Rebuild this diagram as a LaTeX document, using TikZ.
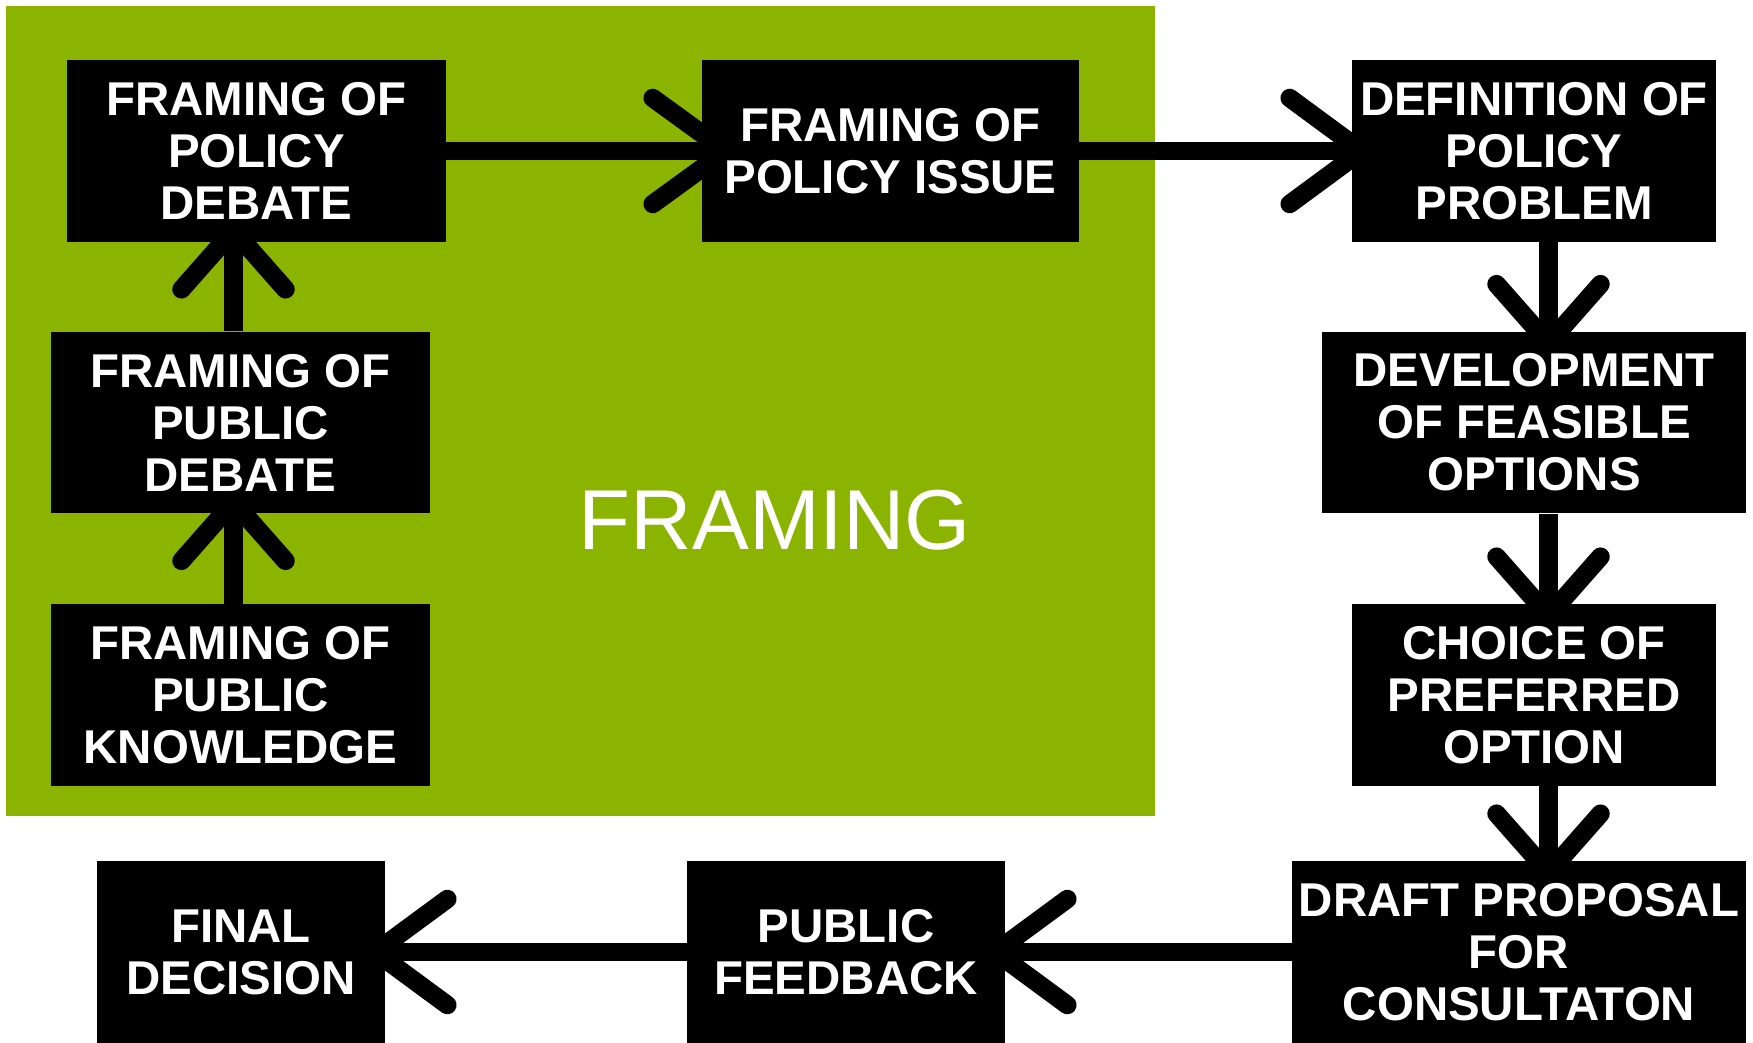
\documentclass[tikz,border=0pt]{standalone}
\usepackage{fontspec}
\setmainfont{Liberation Sans}
\usetikzlibrary{calc,backgrounds}
\definecolor{framegreen}{RGB}{138,180,0}
\newcommand\chevU[1]{\draw[chev] ($(#1)+(-52,47)$) -- ($(#1)+(0,-12)$) -- ($(#1)+(52,47)$);}
\newcommand\chevD[1]{\draw[chev] ($(#1)+(-52,-47)$) -- ($(#1)+(0,12)$) -- ($(#1)+(52,-47)$);}
\newcommand\chevR[3]{\draw[chev] ($(#1)+(-#2,-53)$) -- ($(#1)+(#3,0)$) -- ($(#1)+(-#2,53)$);}
\newcommand\chevL[3]{\draw[chev] ($(#1)+(#2,-53)$) -- ($(#1)+(-#3,0)$) -- ($(#1)+(#2,53)$);}
\begin{document}
\begin{tikzpicture}[x=0.02cm,y=-0.02cm,
  box/.style={fill=black,text=white,inner sep=0pt,align=center,minimum height=3.64cm,
    font=\bfseries\fontsize{27}{29.6}\selectfont},
  conn/.style={line width=0.37cm},
  chev/.style={line width=0.37cm,line cap=round,line join=miter}]
\useasboundingbox (0,0) rectangle (1753,1043);
% boxes
\node[box,minimum width=7.58cm] (fpd) at (256.5,151) {FRAMING OF\\POLICY\\DEBATE};
\node[box,minimum width=7.54cm] (fpi) at (890.5,151) {FRAMING OF\\POLICY ISSUE};
\node[box,minimum width=7.28cm] (dpp) at (1534,151) {DEFINITION OF\\POLICY\\PROBLEM};
\node[box,minimum width=7.58cm] (fpubd) at (240.5,422.5) {FRAMING OF\\PUBLIC\\DEBATE};
\node[box,minimum width=7.58cm] (fpk) at (240.5,695) {FRAMING OF\\PUBLIC\\KNOWLEDGE};
\node[box,minimum width=8.48cm] (dfo) at (1534,422.5) {DEVELOPMENT\\OF FEASIBLE\\OPTIONS};
\node[box,minimum width=7.28cm] (cpo) at (1534,695) {CHOICE OF\\PREFERRED\\OPTION};
\node[box,minimum width=9.08cm] (dpc) at (1519,952) {DRAFT PROPOSAL\\FOR\\CONSULTATON};
\node[box,minimum width=6.36cm] (pf) at (846,952) {PUBLIC\\FEEDBACK};
\node[box,minimum width=5.76cm] (fd) at (241,952) {FINAL\\DECISION};
\node[text=white,inner sep=0pt,font=\fontsize{48.4}{50}\selectfont] (frm) at (775,520) {FRAMING};
% connector ends
\coordinate (lx) at (233.5,0);
\coordinate (rx) at (1548.5,0);
\coordinate (a1) at (fpubd.south -| lx);
\coordinate (a2) at (fpd.south -| lx);
\coordinate (a3) at (fpi.west);
\coordinate (a4) at (dpp.west);
\coordinate (a5) at (dfo.north -| rx);
\coordinate (a6) at (cpo.north -| rx);
\coordinate (a7) at (dpc.north -| rx);
\coordinate (a8) at (pf.east);
\coordinate (a9) at (fd.east);
\begin{pgfonlayer}{background}
\fill[framegreen] (6,6) rectangle (1155,816);
\draw[conn] (fpk.north -| lx) -- (a1);
\draw[conn] (fpubd.north -| lx) -- (a2);
\draw[conn] (fpd.east) -- (a3);
\draw[conn] (fpi.east) -- (a4);
\draw[conn] (dpp.south -| rx) -- (a5);
\draw[conn] (dfo.south -| rx) -- (a6);
\draw[conn] (cpo.south -| rx) -- (a7);
\draw[conn] (dpc.west) -- (a8);
\draw[conn] (pf.west) -- (a9);
\chevU{a1}
\chevU{a2}
\chevR{a3}{49}{24}
\chevR{a4}{62}{10}
\chevD{a5}
\chevD{a6}
\chevD{a7}
\chevL{a8}{62}{10}
\chevL{a9}{62}{10}
\end{pgfonlayer}
\end{tikzpicture}
\end{document}
